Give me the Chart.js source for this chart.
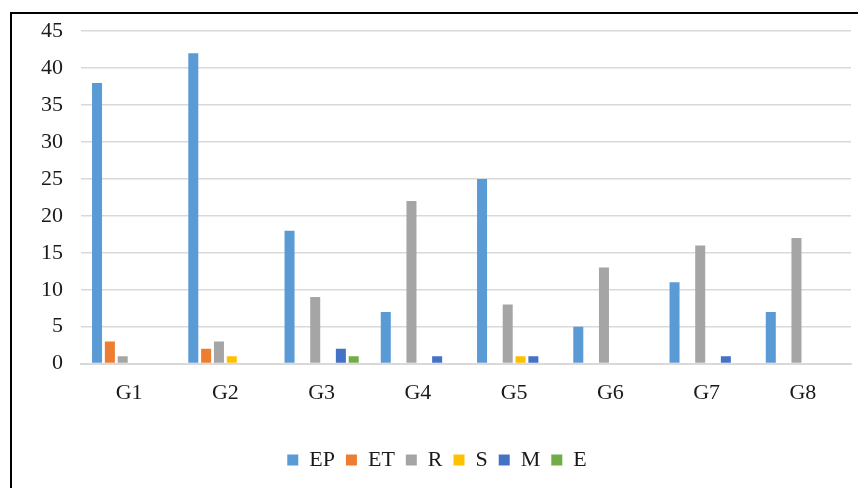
<!DOCTYPE html>
<html lang="en">
<head>
<meta charset="UTF-8">
<title>Groups chart</title>
<script src="https://cdn.jsdelivr.net/npm/chart.js"></script>
<style>
  html, body { margin: 0; padding: 0; background: #fff; }
</style>
</head>
<body>
<canvas id="chart" width="858" height="488"></canvas>
<script>
const categories = ['G1', 'G2', 'G3', 'G4', 'G5', 'G6', 'G7', 'G8'];
const seriesNames = ['EP', 'ET', 'R', 'S', 'M', 'E'];
const EP = [38, 42, 18, 7, 25, 5, 11, 7];
const ET = [3, 2, 0, 0, 0, 0, 0, 0];
const R  = [1, 3, 9, 22, 8, 13, 16, 17];
const S  = [0, 1, 0, 0, 1, 0, 0, 0];
const M  = [0, 0, 2, 1, 1, 0, 1, 0];
const E  = [0, 0, 1, 0, 0, 0, 0, 0];
const colors = ['#5B9BD5', '#ED7D31', '#A5A5A5', '#FFC000', '#4472C4', '#70AD47'];

const font = { family: '"Liberation Serif", "Times New Roman", serif', size: 22 };

// frame lines at left and top of the picture
const framePlugin = {
    id: 'frame',
    afterDraw(chart) {
        const ctx = chart.ctx;
        ctx.save();
        ctx.strokeStyle = '#000';
        ctx.lineWidth = 2;
        ctx.beginPath();
        ctx.moveTo(11, 488);
        ctx.lineTo(11, 13);
        ctx.lineTo(858, 13);
        ctx.stroke();
        ctx.restore();
    }
};

new Chart(document.getElementById('chart'), {
    type: 'bar',
    data: {
        labels: categories,
        datasets: [EP, ET, R, S, M, E].map((d, i) => ({
            label: seriesNames[i],
            data: d,
            backgroundColor: colors[i],
            categoryPercentage: 0.8,
            barPercentage: 0.78
        }))
    },
    options: {
        responsive: false,
        animation: false,
        devicePixelRatio: 1,
        layout: { padding: { left: 23, top: 2, right: 7, bottom: 7 } },
        plugins: {
            legend: {
                position: 'bottom',
                labels: {
                    font: font,
                    color: '#1a1a1a',
                    boxWidth: 11,
                    boxHeight: 11,
                    padding: 11
                }
            },
            tooltip: { enabled: false }
        },
        scales: {
            x: {
                grid: { display: false },
                border: { color: '#d9d9d9', width: 2 },
                ticks: { font: font, color: '#1a1a1a', padding: 8 },
                afterFit(scale) { scale.height += 24; }
            },
            y: {
                min: 0,
                max: 45,
                ticks: { stepSize: 5, font: font, color: '#1a1a1a', padding: 18 },
                grid: { color: '#d9d9d9', lineWidth: 1.5, drawTicks: false },
                border: { display: false }
            }
        }
    },
    plugins: [framePlugin]
});
</script>
</body>
</html>
